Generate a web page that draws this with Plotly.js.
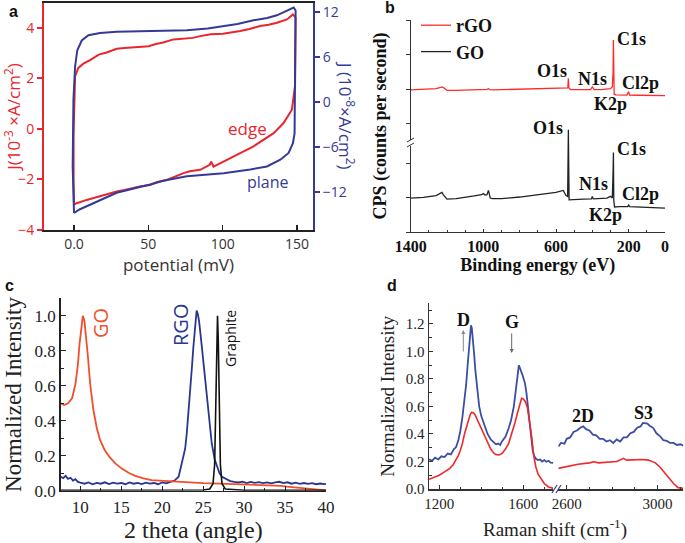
<!DOCTYPE html>
<html><head><meta charset="utf-8">
<script src="https://cdn.plot.ly/plotly-3.0.1.min.js"></script>
<style>html,body{margin:0;padding:0;background:#fff}#chart{width:685px;height:543px}</style>
</head><body><div id="chart"></div>
<script>
// ---------- Panel a: cyclic voltammetry ----------
const edgePotential = [0, -0.3, -0.3, 0, 0.7, 2.9, 6.3, 10.8, 16.6, 22, 28.7, 34, 40, 45, 50.3, 55, 60, 66.9, 75, 80, 84.9, 92, 100.2, 105, 111.8, 118, 125.1, 131, 136.5, 143.3, 147.3, 149.1, 148.9, 148.7, 146.6, 141, 134.3, 127.6, 120.8, 111.8, 102.9, 93.9, 92.3, 91.3, 84.9, 78, 73.7, 68, 62.4, 56, 51.2, 45, 40, 34, 28.7, 23, 17.5, 8.5, 1.8, 0];
const edgeJ = [-3.0, -2.0, -0.2, 1.16, 2.08, 2.41, 2.58, 2.72, 2.94, 3.02, 3.17, 3.2, 3.22, 3.26, 3.27, 3.36, 3.42, 3.54, 3.58, 3.6, 3.67, 3.74, 3.76, 3.8, 3.87, 3.95, 4.07, 4.12, 4.2, 4.33, 4.53, 4.4, 3.14, 1.69, 0.76, 0.23, -0.17, -0.43, -0.69, -0.96, -1.22, -1.49, -1.3, -1.42, -1.62, -1.68, -1.75, -1.88, -2.02, -2.1, -2.22, -2.27, -2.35, -2.42, -2.48, -2.57, -2.68, -2.81, -2.94, -3.0];
const planePotential = [0, -0.9, -0.4, 0.7, 2.2, 5.2, 9.7, 17.5, 28.7, 40, 50.3, 60, 75.9, 90, 100.6, 110, 120.8, 130, 136.5, 145.5, 147.8, 149.1, 148.9, 148.4, 147.3, 144.4, 138.8, 129.8, 118.6, 100.6, 75.9, 60, 51.2, 40, 28.7, 13, 4, 0];
const planeJ = [-14.8, -8.6, 0.27, 4.7, 6.9, 8.2, 8.9, 9.2, 9.35, 9.4, 9.43, 9.5, 9.57, 9.8, 10.1, 10.4, 10.9, 11.2, 11.56, 12.4, 12.6, 12.2, 4.7, -4.2, -5.5, -6.8, -7.7, -8.6, -9.0, -9.5, -9.9, -10.5, -11.0, -11.5, -12.1, -13.5, -14.3, -14.8];
const aTickVals = [0, 50, 100, 150];
const aTickText = ['0.0', '50', '100', '150'];
const aLeftTicks = [-4, -2, 0, 2, 4];
const aRightTicks = [-12, -6, 0, 6, 12];

// ---------- Panel b: XPS survey ----------
const rgoEnergy = [1400, 1330, 1260, 1235, 1225, 1215, 1200, 1150, 1100, 1050, 1000, 980, 972, 965, 950, 900, 800, 700, 600, 550, 535, 532, 529, 520, 450, 410, 400, 390, 350, 300, 290, 286, 284, 282, 280, 270, 250, 210, 200, 195, 150, 100, 50, 0];
const rgoCPS = [6.70, 6.72, 6.76, 6.82, 6.84, 6.78, 6.68, 6.68, 6.69, 6.70, 6.71, 6.73, 6.76, 6.72, 6.70, 6.71, 6.73, 6.75, 6.77, 6.78, 6.80, 7.25, 6.80, 6.72, 6.72, 6.72, 6.84, 6.72, 6.72, 6.76, 6.85, 7.5, 9.06, 7.0, 6.5, 6.47, 6.46, 6.46, 6.62, 6.46, 6.45, 6.44, 6.44, 6.43];
const goEnergy = [1400, 1330, 1260, 1235, 1228, 1220, 1200, 1150, 1100, 1050, 1010, 1000, 990, 980, 972, 962, 950, 900, 800, 700, 600, 560, 545, 536, 532, 528, 520, 450, 405, 400, 395, 320, 300, 290, 286, 284, 282, 278, 250, 205, 200, 195, 100, 0];
const goCPS = [1.60, 1.63, 1.72, 1.84, 1.87, 1.75, 1.55, 1.57, 1.62, 1.70, 1.76, 1.81, 1.74, 1.76, 1.96, 1.6, 1.57, 1.57, 1.65, 1.76, 1.87, 1.96, 1.72, 1.68, 4.82, 1.52, 1.52, 1.55, 1.56, 1.68, 1.56, 1.6, 1.68, 1.6, 2.8, 3.75, 1.5, 1.18, 1.2, 1.2, 1.27, 1.2, 1.16, 1.13];
const bTickVals = [1400, 1000, 600, 200, 0];
const bYTicks = [0, 1.65, 3.25, 5.1, 6.7, 8.35, 10];

// ---------- Panel c: XRD ----------
const goTheta = [7.6, 8.0, 8.5, 9.0, 9.4, 9.7, 9.9, 10.1, 10.3, 10.5, 10.7, 10.9, 11.2, 11.6, 12.0, 12.4, 13.0, 13.6, 14.3, 15.1, 16.0, 16.7, 17.7, 18.7, 20.7, 23, 25, 27, 29, 31, 33, 34.5, 35.2, 36.2, 37.2, 38.5, 40];
const goXRD = [0.50, 0.49, 0.50, 0.53, 0.61, 0.72, 0.84, 0.94, 1.0, 0.97, 0.88, 0.78, 0.61, 0.46, 0.36, 0.29, 0.23, 0.19, 0.155, 0.125, 0.10, 0.085, 0.07, 0.06, 0.055, 0.047, 0.043, 0.041, 0.038, 0.036, 0.032, 0.028, 0.023, 0.018, 0.013, 0.007, 0.002];
const rgoTheta = [7.6, 7.9, 8.2, 8.5, 8.8, 9.1, 9.4, 9.7, 10, 10.5, 11, 11.5, 12, 12.5, 13, 13.5, 14, 14.5, 15, 15.5, 16, 16.5, 17, 17.5, 18, 18.5, 19, 19.5, 20, 20.5, 21, 21.5, 22.0, 22.2, 22.5, 22.8, 23.0, 23.2, 23.4, 23.6, 23.8, 24.0, 24.2, 24.35, 24.5, 24.8, 25.0, 25.2, 25.4, 25.65, 25.85, 26.05, 26.4, 26.7, 27.0, 27.3, 27.8, 28.3, 28.8, 29.3, 29.8, 30.3, 30.8, 31.3, 31.8, 32.3, 32.8, 33.3, 33.8, 34.3, 34.8, 35.3, 35.8, 36.3, 36.8, 37.3, 37.8, 38.3, 38.8, 39.3, 39.8, 40];
const rgoXRD = [0.08, 0.072, 0.085, 0.068, 0.074, 0.058, 0.066, 0.05, 0.046, 0.04, 0.047, 0.037, 0.045, 0.04, 0.048, 0.038, 0.046, 0.041, 0.044, 0.037, 0.047, 0.04, 0.045, 0.038, 0.046, 0.041, 0.044, 0.037, 0.047, 0.042, 0.05, 0.058, 0.08, 0.12, 0.17, 0.24, 0.33, 0.44, 0.56, 0.69, 0.82, 0.94, 1.03, 1.01, 0.97, 0.84, 0.75, 0.65, 0.55, 0.44, 0.35, 0.27, 0.18, 0.14, 0.10, 0.08, 0.065, 0.055, 0.05, 0.047, 0.052, 0.044, 0.05, 0.045, 0.049, 0.043, 0.048, 0.042, 0.047, 0.051, 0.043, 0.048, 0.04, 0.046, 0.039, 0.044, 0.039, 0.043, 0.037, 0.041, 0.038, 0.039];
const graphiteTheta = [7.6, 12, 20, 25, 25.8, 26.2, 26.4, 26.55, 26.65, 26.75, 26.85, 26.95, 27.1, 27.3, 27.7, 30, 35, 40];
const graphiteXRD = [0.003, 0.003, 0.003, 0.004, 0.01, 0.04, 0.15, 0.55, 0.9, 1.0, 0.85, 0.5, 0.15, 0.04, 0.01, 0.003, 0.003, 0.003];

// ---------- Panel d: Raman ----------
const blueShiftLow = [1151, 1165, 1180, 1195, 1210, 1225, 1240, 1255, 1270, 1280, 1290, 1300, 1310, 1320, 1328, 1335, 1341, 1346, 1351, 1355, 1360, 1366, 1372, 1380, 1390, 1400, 1415, 1430, 1445, 1460, 1470, 1480, 1490, 1500, 1515, 1530, 1542, 1555, 1563, 1570, 1575, 1579, 1584, 1590, 1596, 1602, 1608, 1615, 1622, 1630, 1638, 1645, 1652, 1660, 1670, 1680, 1690, 1700, 1710, 1720, 1730, 1743];
const blueRamanLow = [0.216, 0.205, 0.228, 0.215, 0.238, 0.232, 0.258, 0.252, 0.29, 0.305, 0.35, 0.42, 0.52, 0.64, 0.76, 0.9, 1.02, 1.1, 1.19, 1.17, 1.1, 0.98, 0.86, 0.72, 0.6, 0.53, 0.46, 0.4, 0.36, 0.335, 0.325, 0.33, 0.32, 0.35, 0.38, 0.44, 0.5, 0.6, 0.7, 0.8, 0.86, 0.9, 0.88, 0.86, 0.83, 0.8, 0.77, 0.7, 0.6, 0.48, 0.36, 0.28, 0.24, 0.22, 0.21, 0.215, 0.2, 0.21, 0.198, 0.205, 0.192, 0.19];
const redShiftLow = [1151, 1175, 1200, 1225, 1250, 1265, 1280, 1290, 1300, 1310, 1320, 1330, 1340, 1347, 1354, 1362, 1370, 1385, 1400, 1415, 1430, 1445, 1460, 1470, 1480, 1490, 1500, 1515, 1530, 1545, 1560, 1570, 1580, 1586, 1592, 1600, 1610, 1620, 1630, 1640, 1650, 1660, 1670, 1685, 1700, 1720, 1743];
const redRamanLow = [0.07, 0.085, 0.1, 0.125, 0.15, 0.175, 0.21, 0.24, 0.28, 0.33, 0.4, 0.46, 0.51, 0.54, 0.557, 0.555, 0.54, 0.49, 0.43, 0.38, 0.33, 0.29, 0.26, 0.25, 0.247, 0.25, 0.26, 0.29, 0.33, 0.4, 0.48, 0.54, 0.6, 0.64, 0.66, 0.655, 0.635, 0.59, 0.5, 0.38, 0.24, 0.16, 0.11, 0.07, 0.04, 0.015, 0.005];
const blueShiftHigh = [2563, 2575, 2590, 2600, 2615, 2630, 2645, 2660, 2673, 2685, 2700, 2715, 2730, 2745, 2760, 2775, 2790, 2805, 2820, 2835, 2850, 2865, 2880, 2895, 2910, 2925, 2935, 2945, 2955, 2965, 2980, 2995, 3010, 3025, 3040, 3055, 3070, 3085, 3100, 3113];
const blueRamanHigh = [0.31, 0.335, 0.33, 0.365, 0.375, 0.415, 0.425, 0.445, 0.455, 0.435, 0.425, 0.395, 0.39, 0.365, 0.365, 0.345, 0.355, 0.335, 0.36, 0.345, 0.375, 0.375, 0.405, 0.415, 0.445, 0.455, 0.48, 0.475, 0.475, 0.46, 0.445, 0.405, 0.385, 0.355, 0.35, 0.335, 0.335, 0.32, 0.325, 0.315];
const redShiftHigh = [2563, 2600, 2650, 2700, 2720, 2740, 2780, 2820, 2835, 2849, 2865, 2890, 2930, 2960, 2990, 3010, 3030, 3050, 3070, 3090, 3105, 3113];
const redRamanHigh = [0.15, 0.165, 0.18, 0.19, 0.198, 0.19, 0.195, 0.2, 0.21, 0.223, 0.21, 0.212, 0.215, 0.21, 0.19, 0.16, 0.12, 0.08, 0.04, 0.01, 0.005, 0.005];

// ---------- helpers ----------
const W = 685, H = 543;
const px = v => v / W, py = v => 1 - v / H;
const SANS = 'Open Sans, Arial, sans-serif';
const SERIF = 'Liberation Serif, Times New Roman, serif';
const RED_A = '#e8262c', BLUE_A = '#353a96';
const RED_B = '#ff2b2b';
const RED_C = '#f24e2c', BLUE_C = '#28368f';
const RED_D = '#f0282a', BLUE_D = '#3a4ea2';

const traces = [
  {x: edgePotential, y: edgeJ, xaxis: 'x', yaxis: 'y', mode: 'lines', line: {color: RED_A, width: 2}, showlegend: false, name: 'edge'},
  {x: planePotential, y: planeJ, xaxis: 'x', yaxis: 'y2', mode: 'lines', line: {color: BLUE_A, width: 2}, showlegend: false, name: 'plane'},
  {x: rgoEnergy, y: rgoCPS, xaxis: 'x2', yaxis: 'y3', mode: 'lines', line: {color: RED_B, width: 1.3}, name: 'rGO'},
  {x: goEnergy, y: goCPS, xaxis: 'x2', yaxis: 'y3', mode: 'lines', line: {color: '#222', width: 1.3}, name: 'GO'},
  {x: rgoTheta, y: rgoXRD, xaxis: 'x3', yaxis: 'y4', mode: 'lines', line: {color: BLUE_C, width: 1.8}, showlegend: false, name: 'RGO'},
  {x: goTheta, y: goXRD, xaxis: 'x3', yaxis: 'y4', mode: 'lines', line: {color: RED_C, width: 1.8}, showlegend: false, name: 'GO'},
  {x: graphiteTheta, y: graphiteXRD, xaxis: 'x3', yaxis: 'y4', mode: 'lines', line: {color: '#111', width: 1.6}, showlegend: false, name: 'Graphite'},
  {x: blueShiftLow, y: blueRamanLow, xaxis: 'x4', yaxis: 'y5', mode: 'lines', line: {color: BLUE_D, width: 1.8}, showlegend: false},
  {x: redShiftLow, y: redRamanLow, xaxis: 'x4', yaxis: 'y5', mode: 'lines', line: {color: RED_D, width: 1.6}, showlegend: false},
  {x: blueShiftHigh, y: blueRamanHigh, xaxis: 'x5', yaxis: 'y5', mode: 'lines', line: {color: BLUE_D, width: 1.8}, showlegend: false},
  {x: redShiftHigh, y: redRamanHigh, xaxis: 'x5', yaxis: 'y5', mode: 'lines', line: {color: RED_D, width: 1.6}, showlegend: false}
];

const noGrid = {showgrid: false, zeroline: false, automargin: false};

function ann(text, x, y, font, extra) {
  return Object.assign({text: text, xref: 'paper', yref: 'paper', x: px(x), y: py(y), showarrow: false, font: font, xanchor: 'center', yanchor: 'middle'}, extra || {});
}
const bFont = {family: SERIF, size: 18, color: '#111', weight: 'bold'};

const layout = {
  width: W, height: H,
  margin: {l: 0, r: 0, t: 0, b: 0},
  paper_bgcolor: '#fff', plot_bgcolor: 'rgba(0,0,0,0)',
  showlegend: true,
  legend: {x: px(416), y: py(7), xanchor: 'left', yanchor: 'top', bgcolor: 'rgba(0,0,0,0)', font: {family: SERIF, size: 18, color: '#111', weight: 'bold'}, itemwidth: 30, tracegroupgap: 0},
  // panel a
  xaxis: Object.assign({}, noGrid, {domain: [px(44), px(313)], range: [-20.2, 160.8], anchor: 'y', showline: true, linecolor: '#222', linewidth: 2, mirror: true,
    ticks: 'inside', ticklen: 5, tickwidth: 1.5, tickcolor: '#222', tickvals: aTickVals, ticktext: aTickText,
    tickfont: {family: SANS, size: 14, color: '#333'},
    title: {text: 'potential (mV)', font: {family: SANS, size: 17, color: '#333'}, standoff: 2}}),
  yaxis: Object.assign({}, noGrid, {domain: [py(230), py(3)], range: [-4, 4.98], anchor: 'x', showline: true, linecolor: RED_A, linewidth: 2,
    ticks: 'outside', ticklen: 5, tickwidth: 2, tickcolor: RED_A, tickvals: aLeftTicks,
    tickfont: {family: SANS, size: 14, color: RED_A},
    title: {text: 'J(10<sup>-3</sup> ×A/cm<sup>2</sup>)', font: {family: SANS, size: 17, color: RED_A}, standoff: 2}}),
  yaxis2: Object.assign({}, noGrid, {overlaying: 'y', side: 'right', anchor: 'x', range: [-17.07, 13.2], showline: true, linecolor: BLUE_A, linewidth: 2,
    ticks: 'outside', ticklen: 5, tickwidth: 2, tickcolor: BLUE_A, tickvals: aRightTicks,
    tickfont: {family: SANS, size: 14, color: BLUE_A}}),
  // panel b
  xaxis2: Object.assign({}, noGrid, {domain: [px(410.7), px(665)], range: [1400, 0], anchor: 'y3', showline: true, linecolor: '#333', linewidth: 1,
    ticks: 'inside', ticklen: 3, tickcolor: '#333', tickvals: bTickVals,
    minor: {ticks: 'inside', ticklen: 2, dtick: 100, tickcolor: '#333'},
    tickfont: {family: SERIF, size: 16, color: '#111', weight: 'bold'},
    title: {text: 'Binding energy (eV)', font: {family: SERIF, size: 18, color: '#111', weight: 'bold'}, standoff: 2}}),
  yaxis3: Object.assign({}, noGrid, {domain: [py(232), py(20)], range: [0, 10], anchor: 'x2', showline: true, linecolor: '#333', linewidth: 1,
    ticks: 'outside', ticklen: 4, tickcolor: '#333', tickvals: bYTicks, showticklabels: false,
    title: {text: 'CPS (counts per second)', font: {family: SERIF, size: 18, color: '#111', weight: 'bold'}, standoff: 14}}),
  // panel c
  xaxis3: Object.assign({}, noGrid, {domain: [px(60.7), px(326)], range: [7.6, 40], anchor: 'y4', showline: true, linecolor: '#222', linewidth: 1.5,
    ticks: 'inside', ticklen: 5, tickcolor: '#222', tick0: 0, dtick: 5,
    minor: {ticks: 'inside', ticklen: 3, dtick: 2.5, tickcolor: '#222'},
    tickfont: {family: SERIF, size: 17, color: '#222'},
    title: {text: '2 theta (angle)', font: {family: SERIF, size: 24, color: '#222'}, standoff: 4}}),
  yaxis4: Object.assign({}, noGrid, {domain: [py(490.7), py(298.3)], range: [0, 1.1], anchor: 'x3', showline: true, linecolor: '#222', linewidth: 1.5,
    ticks: 'inside', ticklen: 5, tickcolor: '#222', tick0: 0, dtick: 0.2, tickformat: '.1f',
    minor: {ticks: 'inside', ticklen: 3, dtick: 0.1, tickcolor: '#222'},
    tickfont: {family: SERIF, size: 17, color: '#222'},
    title: {text: 'Normalized Intensity', font: {family: SERIF, size: 23, color: '#222'}, standoff: 6}}),
  // panel d
  xaxis4: Object.assign({}, noGrid, {domain: [px(429), px(553.3)], range: [1151, 1743], anchor: 'y5', showline: true, linecolor: '#333', linewidth: 1.5,
    ticks: 'inside', ticklen: 4, tickcolor: '#333', tickvals: [1200, 1600],
    minor: {ticks: 'inside', ticklen: 2.5, dtick: 100, tickcolor: '#333'},
    tickfont: {family: SERIF, size: 15, color: '#222'}}),
  xaxis5: Object.assign({}, noGrid, {domain: [px(558.3), px(683.3)], range: [2563, 3113], anchor: 'y5', showline: true, linecolor: '#333', linewidth: 1.5,
    ticks: 'inside', ticklen: 4, tickcolor: '#333', tickvals: [2600, 3000],
    minor: {ticks: 'inside', ticklen: 2.5, dtick: 100, tickcolor: '#333'},
    tickfont: {family: SERIF, size: 15, color: '#222'}}),
  yaxis5: Object.assign({}, noGrid, {domain: [py(489), py(303.3)], range: [0, 1.35], anchor: 'x4', showline: true, linecolor: '#333', linewidth: 1.5,
    ticks: 'inside', ticklen: 4, tickcolor: '#333', tick0: 0, dtick: 0.2, tickformat: '.1f',
    minor: {ticks: 'inside', ticklen: 2.5, dtick: 0.1, tickcolor: '#333'},
    tickfont: {family: SERIF, size: 15, color: '#222'},
    title: {text: 'Normalized Intensity', font: {family: SERIF, size: 19, color: '#222'}, standoff: 6}}),
  shapes: [
    // panel b y-axis break
    {type: 'rect', xref: 'paper', yref: 'paper', x0: px(406), x1: px(415), y0: py(146), y1: py(140), fillcolor: '#fff', line: {width: 0}},
    {type: 'line', xref: 'paper', yref: 'paper', x0: px(407), y0: py(142), x1: px(414), y1: py(138), line: {color: '#333', width: 1}},
    {type: 'line', xref: 'paper', yref: 'paper', x0: px(407), y0: py(147), x1: px(414), y1: py(143), line: {color: '#333', width: 1}},
    // panel d x-axis break
    {type: 'line', xref: 'paper', yref: 'paper', x0: px(552), y0: py(493), x1: px(557), y1: py(485), line: {color: '#34408f', width: 1.2}},
    {type: 'line', xref: 'paper', yref: 'paper', x0: px(556), y0: py(493), x1: px(561), y1: py(485), line: {color: '#34408f', width: 1.2}}
  ],
  annotations: [
    ann('a', 13, 12, {family: 'Liberation Sans, Arial', size: 16, color: '#111', weight: 'bold'}),
    ann('b', 390, 8, {family: 'Liberation Sans, Arial', size: 16, color: '#111', weight: 'bold'}),
    ann('c', 9, 285, {family: 'Liberation Sans, Arial', size: 16, color: '#111', weight: 'bold'}),
    ann('d', 392, 285, {family: 'Liberation Sans, Arial', size: 16, color: '#111', weight: 'bold'}),
    // panel a
    ann('J (10<sup>-8</sup>×A/cm<sup>2</sup>)', 347, 115, {family: SANS, size: 17, color: BLUE_A}, {textangle: 90}),
    ann('edge', 247, 128, {family: SANS, size: 17, color: RED_A}),
    ann('plane', 268, 182, {family: SANS, size: 16, color: BLUE_A}),
    // panel b
    ann('O1s', 552, 71, bFont), ann('N1s', 592.5, 79, bFont), ann('C1s', 631.7, 39, bFont),
    ann('Cl2p', 640.5, 83, bFont), ann('K2p', 610.5, 104, bFont),
    ann('O1s', 548, 128, bFont), ann('C1s', 631.7, 149, bFont), ann('N1s', 593, 184, bFont),
    ann('Cl2p', 640.5, 194, bFont), ann('K2p', 605, 215, bFont),
    // panel c
    ann('GO', 100, 323, {family: SANS, size: 20, color: RED_C}, {textangle: -90}),
    ann('RGO', 180, 325, {family: SANS, size: 20, color: BLUE_C}, {textangle: -90}),
    ann('Graphite', 230, 338, {family: SANS, size: 14, color: '#111'}, {textangle: -90}),
    // panel d
    ann('Raman shift (cm<sup>-1</sup>)', 555, 528, {family: SERIF, size: 19, color: '#222'}),
    ann('D', 463, 320, bFont),
    {text: '', xref: 'paper', yref: 'paper', x: px(463.3), y: py(330), ax: 0, ay: 23, showarrow: true, arrowhead: 2, arrowsize: 0.8, arrowwidth: 1, arrowcolor: '#888'},
    {text: '<b>G</b>', xref: 'paper', yref: 'paper', x: px(511.7), y: py(353), ax: 0, ay: -31, showarrow: true, arrowhead: 2, arrowsize: 0.8, arrowwidth: 1, arrowcolor: '#666', font: {family: SERIF, size: 18, color: '#111'}},
    ann('2D', 583, 416, bFont),
    ann('S3', 643, 413, bFont)
  ]
};

Plotly.newPlot('chart', traces, layout, {displayModeBar: false, staticPlot: true});
</script>
</body></html>
